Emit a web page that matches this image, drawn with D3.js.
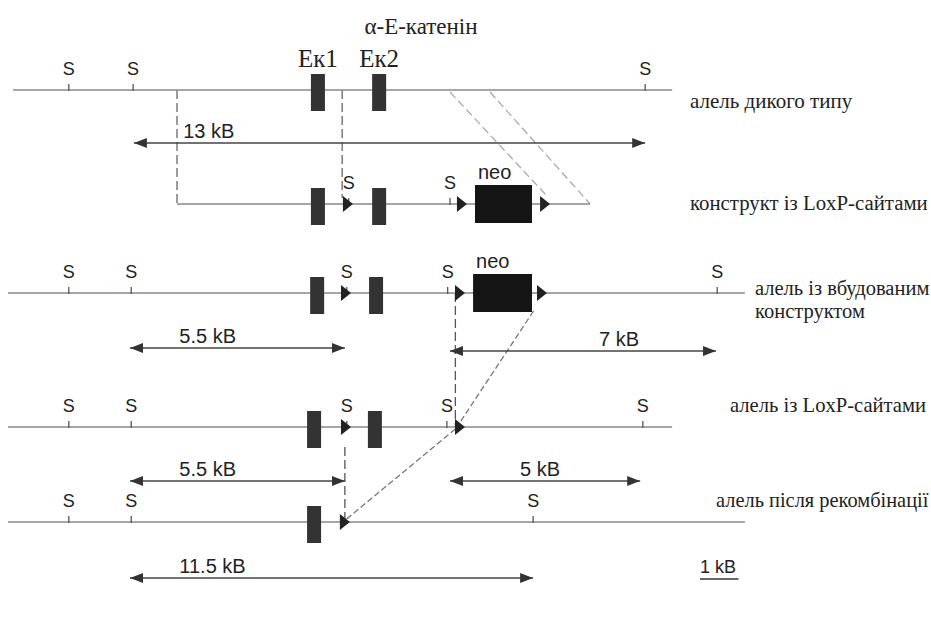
<!DOCTYPE html>
<html>
<head>
<meta charset="utf-8">
<script src="https://cdn.jsdelivr.net/npm/d3@7"></script>
<style>
  body { margin: 0; background: #fff; }
  svg { display: block; }
</style>
</head>
<body>
<div id="chart"></div>
<script>
// positions along the locus, in kB
const rowNames = ["алель дикого типу", "конструкт із LoxP-сайтами", "алель із вбудованим конструктом", "алель із LoxP-сайтами", "алель після рекомбінації"];
const exonNames = ["Eк1", "Eк2"];

const wtSpan = [0.13, 17.25];
const wtSites = [1.58, 3.25, 16.55];
const wtExons = [8.05, 9.64];

const constructSpan = [4.39, 15.12];
const constructSites = [8.85, 11.48];
const constructExons = [8.05, 9.64];
const constructLoxP = [8.70, 11.66, 13.82];
const constructNeo = [12.13, 13.61];

const targetedSpan = [0, 19.14];
const targetedSites = [1.58, 3.2, 8.8, 11.42, 18.42];
const targetedExons = [8.03, 9.56];
const targetedLoxP = [8.65, 11.61, 13.74];
const targetedNeo = [12.08, 13.61];

const floxedSpan = [0, 17.25];
const floxedSites = [1.58, 3.2, 8.8, 11.4, 16.49];
const floxedExons = [7.95, 9.53];
const floxedLoxP = [8.65, 11.61];

const deletedSpan = [0, 19.14];
const deletedSites = [1.58, 3.2, 13.64];
const deletedExons = [7.95];
const deletedLoxP = [8.62];

const fragLabels = ["13 kB", "5.5 kB", "7 kB", "5.5 kB", "5 kB", "11.5 kB"];
const fragStart = [3.27, 3.17, 11.48, 3.17, 11.48, 3.17];
const fragEnd = [16.55, 8.75, 18.39, 8.75, 16.42, 13.64];

const width = 931, height = 619;
const x = d3.scaleLinear().domain([0, 24]).range([8, 8 + 24 * 38.5]);

const rowY = [90, 204, 293, 427, 522];
const fragY = [143, 348, 351, 481, 481, 578];
const fragLabelX = [4.55, 4.45, 15.35, 4.45, 13.3, 4.45]; // kB, left edge of label

const svg = d3.select("#chart").append("svg")
  .attr("width", width)
  .attr("height", height);

const defs = svg.append("defs");
defs.append("marker")
  .attr("id", "head")
  .attr("viewBox", "0 0 13 10")
  .attr("refX", 13).attr("refY", 5)
  .attr("markerWidth", 13).attr("markerHeight", 10)
  .attr("markerUnits", "userSpaceOnUse")
  .attr("orient", "auto-start-reverse")
  .append("path")
  .attr("d", "M0,0L13,5L0,10Z")
  .attr("fill", "#333");

const sans = "'Liberation Sans', Arial, sans-serif";
const serif = "'Liberation Serif', 'Times New Roman', serif";

// title
svg.append("text")
  .attr("x", 421).attr("y", 34)
  .attr("text-anchor", "middle")
  .style("font-family", serif).style("font-size", "23px").attr("fill", "#222")
  .text("α-E-катенін");

// exon names above wild type
svg.selectAll(".exname")
  .data(wtExons)
  .enter().append("text")
  .attr("x", d => x(d))
  .attr("y", 67)
  .attr("text-anchor", "middle")
  .style("font-family", serif).style("font-size", "25px").attr("fill", "#222")
  .text((d, i) => exonNames[i]);

// dashed guide lines (drawn first, under everything)
const guides = svg.append("g").attr("fill", "none");
const dashV = (kb1, y1, kb2, y2, dash, col) => guides.append("line")
  .attr("x1", x(kb1)).attr("y1", y1).attr("x2", x(kb2)).attr("y2", y2)
  .attr("stroke", col).attr("stroke-width", 1.3).attr("stroke-dasharray", dash);

dashV(constructSpan[0], rowY[0], constructSpan[0], rowY[1], "9,4", "#666");
dashV(8.68, rowY[0], 8.68, rowY[1] - 6, "9,4", "#666");
dashV(11.48, rowY[0] + 2, 14.0, rowY[1] - 8, "8,4", "#aaa");
dashV(12.52, rowY[0] + 2, constructSpan[1], rowY[1], "8,4", "#aaa");
dashV(11.62, rowY[2], 11.62, rowY[3], "9,4", "#555");
dashV(13.65, rowY[2] + 18, 11.66, rowY[3], "6,3", "#777");
dashV(8.75, rowY[3] + 20, 8.75, rowY[4], "9,4", "#555");
dashV(11.62, rowY[3] + 2, 8.7, rowY[4], "6,3", "#777");

function drawRow(i, span, sites, exons, loxp, neo) {
  const y = rowY[i];
  const g = svg.append("g").attr("class", "row");

  g.append("line")
    .attr("x1", x(span[0])).attr("x2", x(span[1]))
    .attr("y1", y).attr("y2", y)
    .attr("stroke", "#888").attr("stroke-width", 1.5);

  g.selectAll(".tick")
    .data(sites)
    .enter().append("line")
    .attr("x1", d => x(d)).attr("x2", d => x(d))
    .attr("y1", y - 6).attr("y2", y + 1)
    .attr("stroke", "#555").attr("stroke-width", 1.3);

  g.selectAll(".slabel")
    .data(sites)
    .enter().append("text")
    .attr("x", d => x(d))
    .attr("y", y - 15)
    .attr("text-anchor", "middle")
    .style("font-family", sans).style("font-size", "18px").attr("fill", "#222")
    .text("S");

  g.selectAll(".exon")
    .data(exons)
    .enter().append("rect")
    .attr("x", d => x(d) - 7)
    .attr("y", y - 16)
    .attr("width", 14).attr("height", 37)
    .attr("fill", "#333");

  if (neo) {
    g.append("rect")
      .attr("x", x(neo[0])).attr("width", x(neo[1]) - x(neo[0]))
      .attr("y", y - 19).attr("height", 38)
      .attr("fill", "#151515");
    g.append("text")
      .attr("x", x(neo[0]) + 3).attr("y", y - 25)
      .style("font-family", sans).style("font-size", "20px").attr("fill", "#222")
      .text("neo");
  }

  g.selectAll(".lox")
    .data(loxp || [])
    .enter().append("path")
    .attr("d", d => `M${x(d)},${y - 8}L${x(d) + 10},${y}L${x(d)},${y + 8}Z`)
    .attr("fill", "#222");
}

drawRow(0, wtSpan, wtSites, wtExons);
drawRow(1, constructSpan, constructSites, constructExons, constructLoxP, constructNeo);
drawRow(2, targetedSpan, targetedSites, targetedExons, targetedLoxP, targetedNeo);
drawRow(3, floxedSpan, floxedSites, floxedExons, floxedLoxP);
drawRow(4, deletedSpan, deletedSites, deletedExons, deletedLoxP);

// row names on the right, each sized to the width it takes in the figure
const nameX = [690, 690, 755, 730, 716];
const nameY = [108, 210, 295, 412, 507];
const nameW = [163, 238, 174, 196, 212];
rowNames.forEach((name, i) => {
  const t = svg.append("text")
    .attr("x", nameX[i]).attr("y", nameY[i])
    .style("font-family", serif).style("font-size", "20px").attr("fill", "#222");
  let first = t;
  if (i === 2) {
    const parts = name.split(" ");
    first = t.append("tspan").text(parts.slice(0, 3).join(" "));
    t.append("tspan").attr("x", nameX[i]).attr("dy", 23).text(parts[3]);
  } else {
    t.text(name);
  }
  const w = first.node().getComputedTextLength();
  t.style("font-size", Math.min(21, 20 * nameW[i] / w).toFixed(1) + "px");
});

// restriction fragments
const frag = svg.selectAll(".frag")
  .data(fragLabels)
  .enter().append("g")
  .attr("class", "frag");

frag.append("line")
  .attr("x1", (d, i) => x(fragStart[i]))
  .attr("x2", (d, i) => x(fragEnd[i]))
  .attr("y1", (d, i) => fragY[i]).attr("y2", (d, i) => fragY[i])
  .attr("stroke", "#444").attr("stroke-width", 1.6)
  .attr("marker-start", "url(#head)")
  .attr("marker-end", "url(#head)");

frag.append("text")
  .attr("x", (d, i) => x(fragLabelX[i]))
  .attr("y", (d, i) => fragY[i] - 5)
  .style("font-family", sans).style("font-size", "20px").attr("fill", "#222")
  .text(d => d);

// scale bar
svg.append("text")
  .attr("x", 700).attr("y", 573)
  .style("font-family", sans).style("font-size", "18px").attr("fill", "#222")
  .text("1 kB");
svg.append("line")
  .attr("x1", 700).attr("x2", 700 + x(1) - x(0))
  .attr("y1", 579).attr("y2", 579)
  .attr("stroke", "#333").attr("stroke-width", 1.5);
</script>
</body>
</html>
